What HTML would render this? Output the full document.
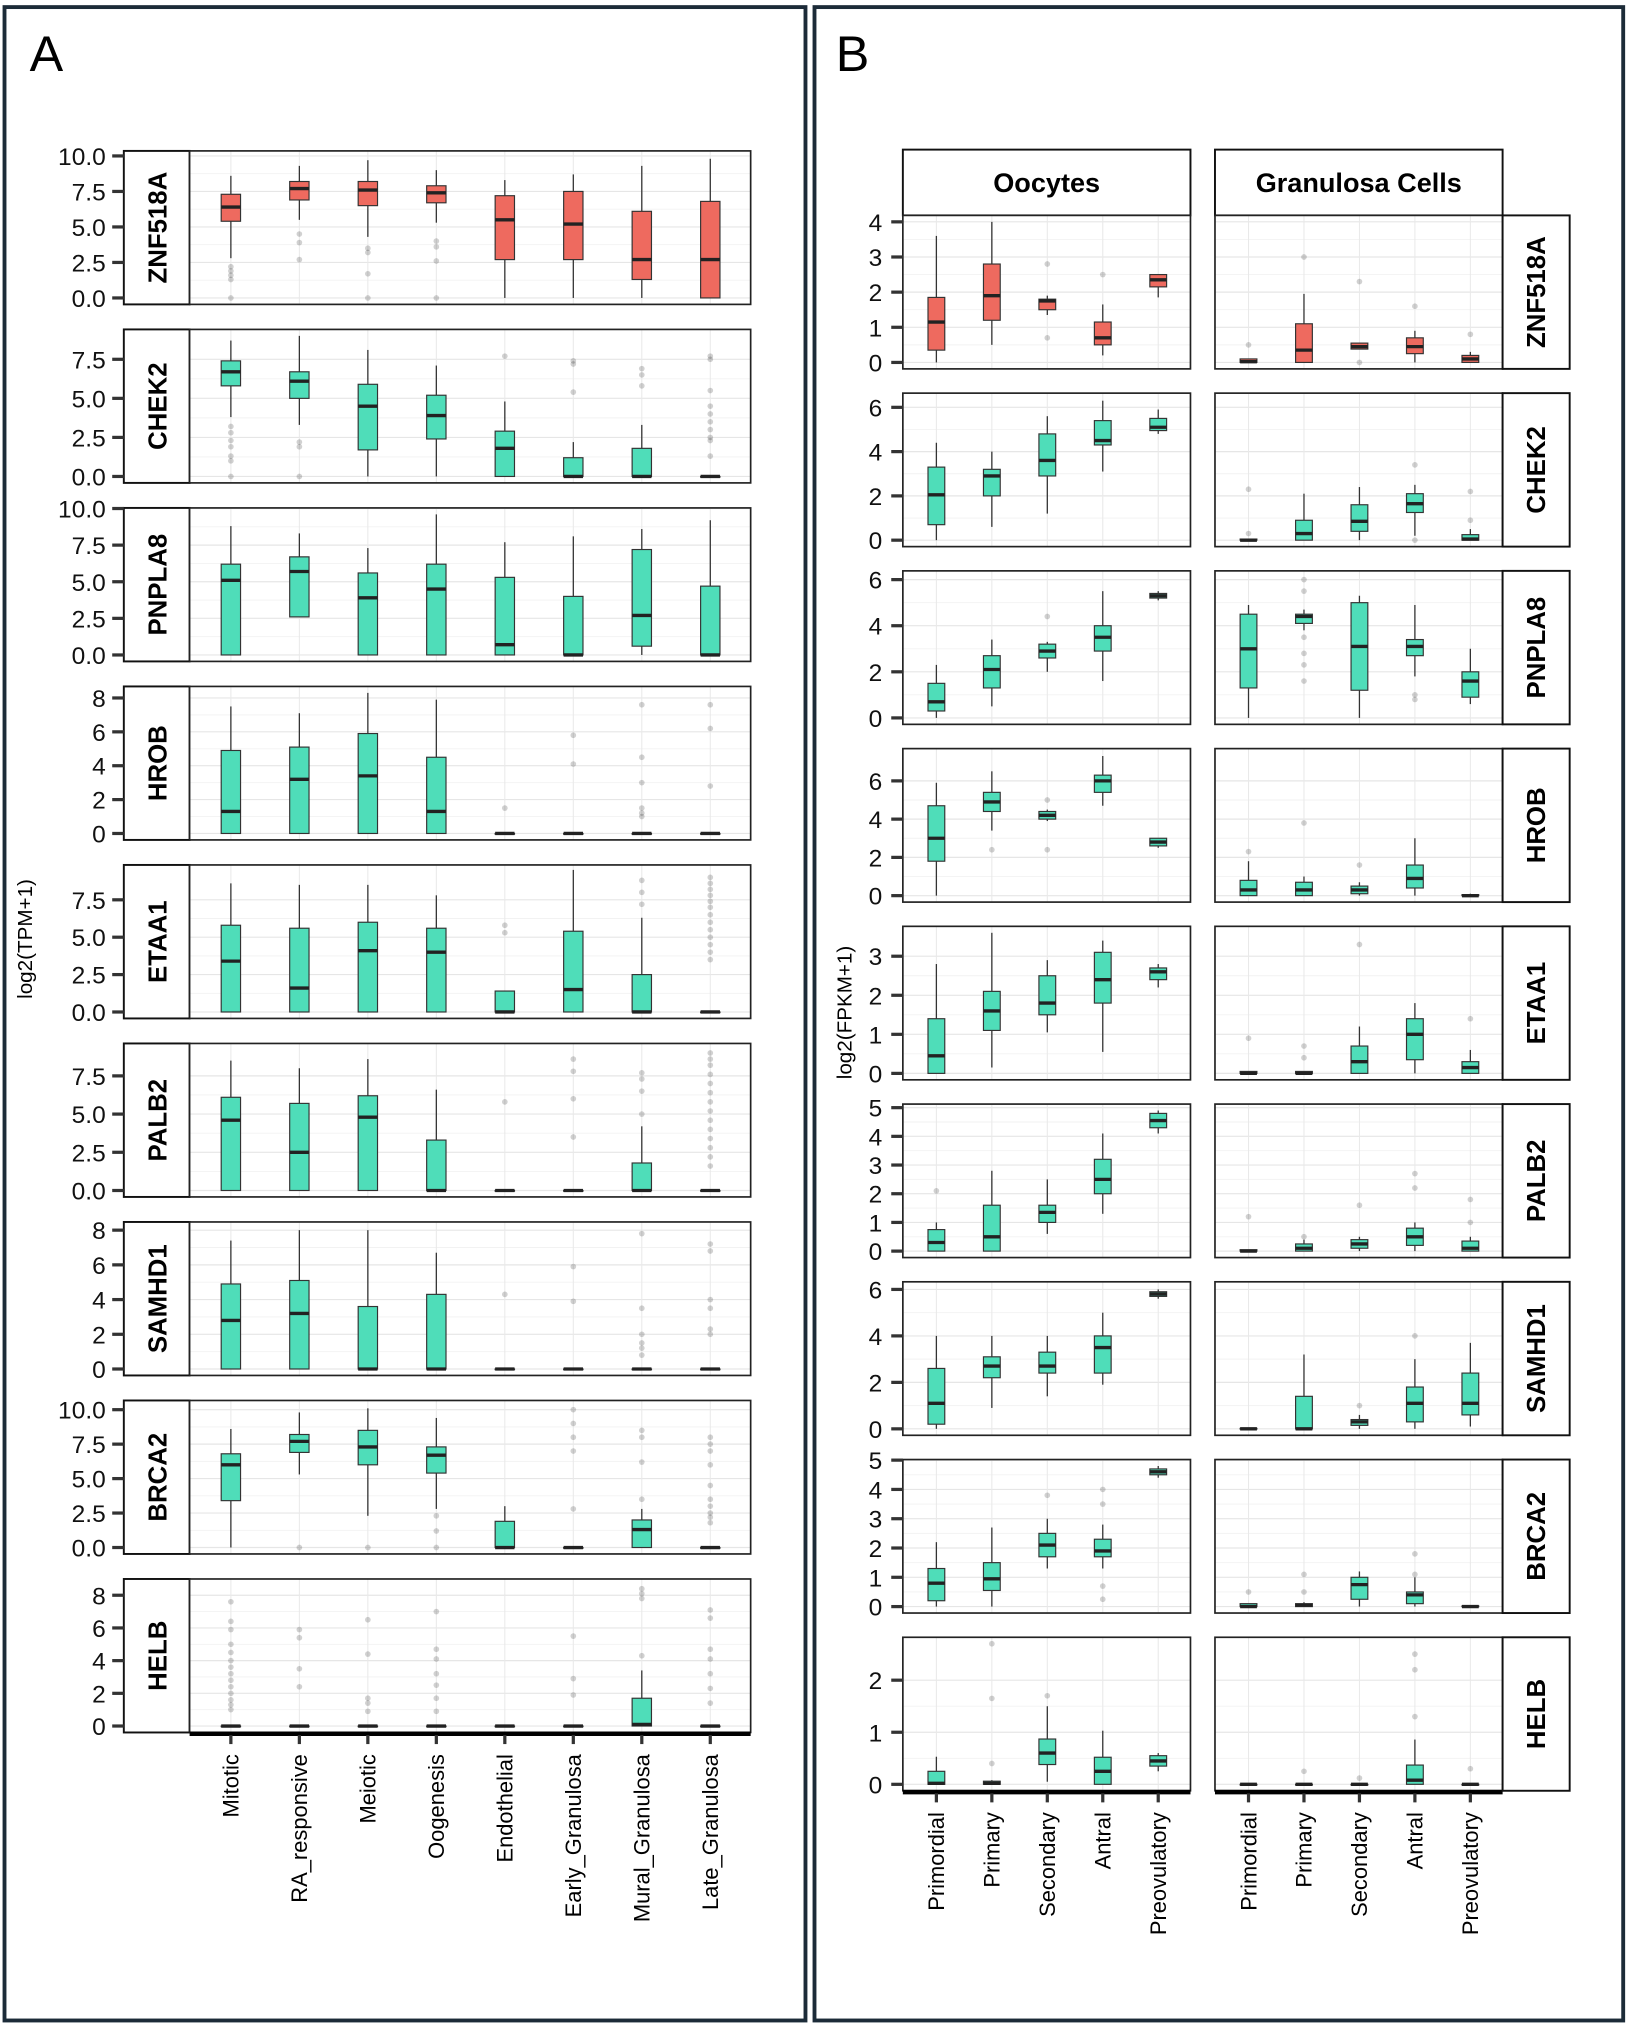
<!DOCTYPE html>
<html><head><meta charset="utf-8">
<style>html,body{margin:0;padding:0;background:#fff}svg{display:block}text{font-family:"Liberation Sans",sans-serif}</style>
</head><body>
<svg id="s" xmlns="http://www.w3.org/2000/svg" width="1629" height="2025" viewBox="0 0 1263 1570" preserveAspectRatio="none"></svg>
<script>
const S=document.getElementById('s');let h='';
const RED='#EE6A5F',TEAL='#4FDDB9';
h+='<rect x="0" y="0" width="1263" height="1570" fill="#fff"/>';
h+='<rect x="3.5" y="5.5" width="621" height="1561" fill="none" stroke="#1c2b38" stroke-width="3"/>';
h+='<rect x="631.5" y="5.5" width="627" height="1561" fill="none" stroke="#1c2b38" stroke-width="3"/>';
h+='<text x="23" y="55" font-size="39">A</text><text x="648" y="55" font-size="39">B</text>';
h+='<text transform="translate(25,728) rotate(-90)" font-size="16" text-anchor="middle">log2(TPM+1)</text>';
h+='<text transform="translate(660,785) rotate(-90)" font-size="16" text-anchor="middle">log2(FPKM+1)</text>';
function fmt(v,dec){return dec?v.toFixed(1):String(v);}
function panel(x1,x2,top,H,maxv,ticks,dec,xs,bw,data,col,tickX,labX,drawAxis){
  const bot=top+H, ppu=(H-10)/maxv; const Y=v=>bot-5-v*ppu;
  h+=`<rect x="${x1}" y="${top}" width="${x2-x1}" height="${H}" fill="#fff"/>`;
  for(let i=0;i<ticks.length;i++){const t=ticks[i];
    h+=`<line x1="${x1}" x2="${x2}" y1="${Y(t)}" y2="${Y(t)}" stroke="#e6e6e6" stroke-width="0.9"/>`;
    if(i<ticks.length-1){const m=(t+ticks[i+1])/2;h+=`<line x1="${x1}" x2="${x2}" y1="${Y(m)}" y2="${Y(m)}" stroke="#f2f2f2" stroke-width="0.7"/>`;}
  }
  xs.forEach(x=>{h+=`<line x1="${x}" x2="${x}" y1="${top}" y2="${bot}" stroke="#e9e9e9" stroke-width="0.8"/>`;});
  data.forEach((d,i)=>{const x=xs[i];const [hi,q3,med,q1,lo,out]=d;
    (out||[]).forEach(o=>{h+=`<circle cx="${x}" cy="${Y(o)}" r="2.2" fill="#000" fill-opacity="0.18"/>`;});
    if(hi>q3)h+=`<line x1="${x}" x2="${x}" y1="${Y(hi)}" y2="${Y(q3)}" stroke="#333" stroke-width="1"/>`;
    if(q1>lo)h+=`<line x1="${x}" x2="${x}" y1="${Y(q1)}" y2="${Y(lo)}" stroke="#333" stroke-width="1"/>`;
    const hgt=Math.max(Y(q1)-Y(q3),0.5);
    h+=`<rect x="${x-bw/2}" y="${Y(q3)}" width="${bw}" height="${hgt}" fill="${col}" stroke="#333" stroke-width="0.9"/>`;
    h+=`<line x1="${x-bw/2}" x2="${x+bw/2}" y1="${Y(med)}" y2="${Y(med)}" stroke="#222" stroke-width="2.6"/>`;
  });
  h+=`<rect x="${x1}" y="${top}" width="${x2-x1}" height="${H}" fill="none" stroke="#222" stroke-width="1.3"/>`;
  if(tickX!==null){ticks.forEach(t=>{
    h+=`<line x1="${tickX-9}" x2="${tickX}" y1="${Y(t)}" y2="${Y(t)}" stroke="#333" stroke-width="2.5"/>`;
    h+=`<text x="${labX}" y="${Y(t)+7}" font-size="19" text-anchor="end" fill="#111">${fmt(t,dec)}</text>`;});}
  if(drawAxis){h+=`<line x1="${x1}" x2="${x2}" y1="${bot+1}" y2="${bot+1}" stroke="#000" stroke-width="3.5"/>`;
    xs.forEach(x=>{h+=`<line x1="${x}" x2="${x}" y1="${bot+2}" y2="${bot+9}" stroke="#333" stroke-width="2.5"/>`;});}
}
const Z=[0,0,0,0,0];
function z(out){return [0,0,0,0,0,out||[]];}
const AX=[];for(let i=0;i<8;i++)AX.push(179+i*53.1);
const A=[
 ['ZNF518A',9.9,[0,2.5,5,7.5,10],RED,[[8.6,7.3,6.4,5.4,2.8,[2.2,1.9,1.6,1.3,0]],[9.3,8.2,7.7,6.9,5.5,[4.5,3.9,2.7]],[9.7,8.2,7.6,6.5,4.3,[3.5,3.2,1.7,0]],[9.0,7.9,7.4,6.7,5.3,[4.0,3.6,2.6,0]],[8.3,7.2,5.5,2.7,0],[8.7,7.5,5.2,2.7,0],[9.3,6.1,2.7,1.3,0],[9.8,6.8,2.7,0,0]]],
 ['CHEK2',9.0,[0,2.5,5,7.5],TEAL,[[8.7,7.4,6.7,5.8,3.8,[3.2,2.8,2.3,1.9,1.3,1.0,0]],[9.0,6.7,6.1,5.0,3.3,[2.2,1.9,0]],[8.1,5.9,4.5,1.7,0],[7.1,5.2,3.9,2.4,0],[4.8,2.9,1.8,0,0,[7.7]],[2.2,1.2,0,0,0,[7.4,7.2,5.4]],[3.3,1.8,0,0,0,[6.9,6.5,5.8]],z([7.7,7.5,5.5,4.5,4,3.5,3,2.5,2.3,1.3])]],
 ['PNPLA8',9.6,[0,2.5,5,7.5,10],TEAL,[[8.8,6.2,5.1,0,0],[8.3,6.7,5.7,2.6,2.6],[7.3,5.6,3.9,0,0],[9.6,6.2,4.5,0,0],[7.7,5.3,0.7,0,0],[8.1,4.0,0,0,0],[8.6,7.2,2.7,0.6,0],[9.2,4.7,0,0,0]]],
 ['HROB',8.3,[0,2,4,6,8],TEAL,[[7.5,4.9,1.3,0,0],[7.1,5.1,3.2,0,0],[8.3,5.9,3.4,0,0],[7.9,4.5,1.3,0,0],z([1.5]),z([5.8,4.1]),z([7.6,4.5,3.0,1.5,1.2,1.0]),z([7.6,6.2,2.8])]],
 ['ETAA1',9.4,[0,2.5,5,7.5],TEAL,[[8.6,5.8,3.4,0,0],[8.5,5.6,1.6,0,0],[8.5,6.0,4.1,0,0],[7.8,5.6,4.0,0,0],[1.4,1.4,0,0,0,[5.8,5.3]],[9.5,5.4,1.5,0,0],[6.3,2.5,0,0,0,[8.8,8.0,7.2]],z([9,8.6,8.2,7.8,7.4,7,6.5,6,5.5,5,4.5,4,3.5])]],
 ['PALB2',9.2,[0,2.5,5,7.5],TEAL,[[8.5,6.1,4.6,0,0],[8.0,5.7,2.5,0,0],[8.6,6.2,4.8,0,0],[6.6,3.3,0,0,0],z([5.8]),z([8.6,7.8,6.0,3.5]),[4.2,1.8,0,0,0,[7.7,7.3,6.5,5.0]],z([9,8.6,8.2,7.6,7,6.4,5.8,5.2,4.6,4,3.4,2.8,2.2,1.6])]],
 ['SAMHD1',8.1,[0,2,4,6,8],TEAL,[[7.4,4.9,2.8,0,0],[8.0,5.1,3.2,0,0],[8.0,3.6,0,0,0],[6.7,4.3,0,0,0],z([4.3]),z([5.9,3.9]),z([7.8,3.5,2,1.5,1.2,0.8]),z([7.2,6.8,4,3.5,2.3,2])]],
 ['BRCA2',10.2,[0,2.5,5,7.5,10],TEAL,[[8.6,6.8,6.0,3.4,0],[9.8,8.2,7.7,6.9,5.3,[0]],[10.1,8.5,7.3,6.0,2.3,[0]],[9.4,7.3,6.7,5.4,2.8,[2.3,1.2,0]],[3.0,1.9,0,0,0],z([10,9,8,7,2.8]),[2.8,2.0,1.3,0,0,[8.5,8.0,6.2,3.5]],z([8,7.5,7,6,4.5,3.5,3,2.5,2.2,1.8])]],
 ['HELB',8.6,[0,2,4,6,8],TEAL,[z([7.6,6.4,5.9,5,4.5,4,3.6,3.2,2.8,2.4,2,1.6,1.3,1]),z([5.9,5.4,3.5,2.4]),z([6.5,4.4,1.7,1.4,0.9]),z([7,4.7,4.1,3.2,2.5,1.7,0.9]),Z,z([5.5,2.9,1.9]),[3.4,1.7,0.1,0,0,[8.4,8.1,7.8,4.3]],z([7.1,6.6,4.7,4.1,3.2,2.3,1.4])]]
];
A.forEach((f,i)=>{const top=117+i*138.4,H=119;
  const dec=f[2].some(t=>t%1!==0);
  h+=`<rect x="96" y="${top}" width="51" height="${H}" fill="#fff" stroke="#111" stroke-width="1.5"/>`;
  h+=`<text transform="translate(129,${top+H/2}) rotate(-90)" font-size="20" font-weight="bold" text-anchor="middle">${f[0]}</text>`;
  panel(147,582,top,H,f[1],f[2],dec,AX,15,f[4],f[3],96,82,i==8);
});
['Mitotic','RA_responsive','Meiotic','Oogenesis','Endothelial','Early_Granulosa','Mural_Granulosa','Late_Granulosa'].forEach((t,i)=>{
  h+=`<text transform="translate(${AX[i]+6},1360) rotate(-90)" font-size="17" text-anchor="end">${t}</text>`;});
const BO=[726,769,812,855,898],BG=[968,1011,1054,1097,1140];
h+='<rect x="700" y="116" width="223" height="51" fill="#fff" stroke="#111" stroke-width="1.5"/><text x="811.5" y="149" font-size="21" font-weight="bold" text-anchor="middle">Oocytes</text>';
h+='<rect x="942" y="116" width="223" height="51" fill="#fff" stroke="#111" stroke-width="1.5"/><text x="1053.5" y="149" font-size="21" font-weight="bold" text-anchor="middle">Granulosa Cells</text>';
const B=[
 ['ZNF518A',4.0,[0,1,2,3,4],RED,[[3.6,1.85,1.15,0.35,0],[4.0,2.8,1.9,1.2,0.5],[1.9,1.8,1.75,1.5,1.35,[2.8,0.7]],[1.65,1.15,0.7,0.5,0.2,[2.5]],[2.5,2.5,2.35,2.15,1.85]],
   [[0.1,0.1,0.02,0,0,[0.5]],[1.95,1.1,0.35,0,0,[3.0]],[0.5,0.55,0.45,0.38,0.38,[2.3,0]],[0.9,0.7,0.45,0.25,0,[1.6]],[0.3,0.2,0.1,0,0,[0.8]]]],
 ['CHEK2',6.35,[0,2,4,6],TEAL,[[4.4,3.3,2.05,0.7,0],[4.0,3.2,2.9,2.0,0.6],[5.6,4.8,3.6,2.9,1.2],[6.3,5.4,4.5,4.3,3.1],[5.9,5.5,5.1,4.95,4.8]],
   [[0.05,0.05,0,0,0,[2.3,0.3]],[2.1,0.9,0.3,0,0],[2.4,1.6,0.85,0.4,0],[2.5,2.1,1.65,1.25,0.2,[3.4,0]],[0.5,0.25,0.05,0,0,[2.2,0.9]]]],
 ['PNPLA8',6.1,[0,2,4,6],TEAL,[[2.3,1.5,0.7,0.3,0],[3.4,2.7,2.1,1.3,0.5],[3.3,3.2,2.9,2.6,2.0,[4.4]],[5.5,4.0,3.5,2.9,1.6],[5.5,5.4,5.3,5.2,5.1]],
   [[4.9,4.5,3.0,1.3,0],[4.7,4.5,4.4,4.1,3.8,[6,5.5,3.5,2.8,2.3,1.6]],[5.3,5.0,3.1,1.2,0],[4.9,3.4,3.1,2.7,1.8,[1.0,0.8]],[3.0,2.0,1.6,0.9,0.6]]],
 ['HROB',7.35,[0,2,4,6],TEAL,[[5.9,4.7,3.0,1.8,0],[6.5,5.4,4.9,4.4,3.4,[2.4]],[4.5,4.4,4.2,4.0,3.9,[5,2.4]],[7.3,6.3,6.0,5.4,4.7],[3.0,3.0,2.8,2.6,2.5]],
   [[1.8,0.8,0.3,0,0,[2.3]],[1.0,0.7,0.3,0,0,[3.8]],[0.7,0.5,0.3,0.1,0,[1.6]],[3.0,1.6,0.9,0.4,0],[0.1,0.05,0,0,0]]],
 ['ETAA1',3.6,[0,1,2,3],TEAL,[[2.8,1.4,0.45,0,0],[3.6,2.1,1.6,1.1,0.15],[2.9,2.5,1.8,1.5,1.05],[3.4,3.1,2.4,1.8,0.55],[2.8,2.7,2.6,2.4,2.2]],
   [[0.05,0.05,0,0,0,[0.9]],[0.05,0.05,0,0,0,[0.7,0.4]],[1.2,0.7,0.3,0,0,[3.3]],[1.8,1.4,1.0,0.35,0],[0.6,0.3,0.15,0,0,[1.4]]]],
 ['PALB2',4.9,[0,1,2,3,4,5],TEAL,[[1.0,0.75,0.3,0,0,[2.1]],[2.8,1.6,0.5,0,0],[2.5,1.6,1.35,1.0,0.6],[4.1,3.2,2.5,2.0,1.3],[4.9,4.8,4.55,4.3,4.1]],
   [[0.05,0.05,0,0,0,[1.2]],[0.4,0.25,0.1,0,0,[0.5]],[0.5,0.4,0.25,0.1,0,[1.6]],[1.0,0.8,0.5,0.2,0,[2.7,2.2]],[0.5,0.35,0.1,0,0,[1.8,1]]]],
 ['SAMHD1',6.05,[0,2,4,6],TEAL,[[4.0,2.6,1.1,0.2,0],[4.0,3.1,2.7,2.2,0.9],[4.0,3.3,2.7,2.4,1.4],[5.0,4.0,3.5,2.4,1.9],[6.0,5.9,5.8,5.7,5.6]],
   [[0.05,0.02,0,0,0],[3.2,1.4,0,0,0],[0.6,0.4,0.3,0.15,0,[1.0]],[3.0,1.8,1.1,0.3,0,[4.0]],[3.7,2.4,1.1,0.6,0.1]]],
 ['BRCA2',4.8,[0,1,2,3,4,5],TEAL,[[2.2,1.3,0.8,0.2,0],[2.7,1.5,0.95,0.55,0],[3.0,2.5,2.1,1.7,1.3,[3.8]],[2.8,2.3,1.9,1.7,1.3,[4,3.5,0.7,0.25]],[4.8,4.7,4.6,4.5,4.4]],
   [[0.1,0.1,0,0,0,[0.5]],[0.15,0.1,0.05,0,0,[1.1,0.5]],[1.2,1.0,0.75,0.25,0],[1.0,0.5,0.4,0.1,0,[1.8,1.1]],[0.05,0.02,0,0,0]]],
 ['HELB',2.7,[0,1,2],TEAL,[[0.53,0.25,0.02,0,0],[0.08,0.06,0.02,0,0,[2.7,1.65,0.4]],[1.5,0.87,0.6,0.38,0.05,[1.7]],[1.03,0.52,0.25,0,0],[0.6,0.55,0.45,0.35,0.25]],
   [Z,z([0.25]),z([0.12]),[0.86,0.37,0.08,0,0,[2.5,2.2,1.3]],z([0.3])]]
];
B.forEach((f,i)=>{const top=167+i*137.8,H=119;
  panel(700,923,top,H,f[1],f[2],false,BO,13,f[4],f[3],700,684,i==8);
  panel(942,1165,top,H,f[1],f[2],false,BG,13,f[5],f[3],null,0,i==8);
  h+=`<rect x="1165" y="${top}" width="52" height="${H}" fill="#fff" stroke="#111" stroke-width="1.5"/>`;
  h+=`<text transform="translate(1198,${top+H/2}) rotate(-90)" font-size="20" font-weight="bold" text-anchor="middle">${f[0]}</text>`;
});
['Primordial','Primary','Secondary','Antral','Preovulatory'].forEach((t,i)=>{
  h+=`<text transform="translate(${BO[i]+6},1405) rotate(-90)" font-size="17" text-anchor="end">${t}</text>`;
  h+=`<text transform="translate(${BG[i]+6},1405) rotate(-90)" font-size="17" text-anchor="end">${t}</text>`;});
S.innerHTML=h;
</script>
</body></html>
